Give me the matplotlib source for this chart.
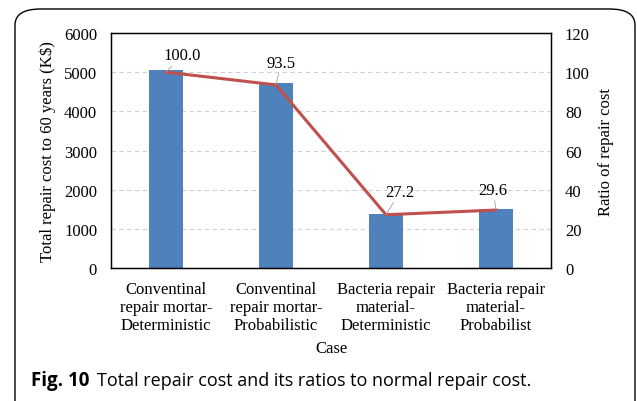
import numpy as np
import matplotlib.pyplot as plt
from matplotlib.patches import FancyBboxPatch

# data
cases = ["Conventinal\nrepair mortar-\nDeterministic",
         "Conventinal\nrepair mortar-\nProbabilistic",
         "Bacteria repair\nmaterial-\nDeterministic",
         "Bacteria repair\nmaterial-\nProbabilist"]
total_cost = [5050, 4720, 1370, 1500]
ratio = [100.0, 93.5, 27.2, 29.6]
ratio_labels = ["100.0", "93.5", "27.2", "29.6"]

plt.rcParams['font.family'] = ['Liberation Serif', 'DejaVu Serif']

fig = plt.figure(figsize=(6.37, 4.02), dpi=100)

# rounded frame around the figure
frame = FancyBboxPatch((15 / 637, -0.05), 620 / 637, 1 - 10 / 402 + 0.05,
                       boxstyle="round,pad=0,rounding_size=0.04",
                       transform=fig.transFigure, fill=False,
                       edgecolor="black", linewidth=1.0, clip_on=False)
fig.patches.append(frame)

ax = fig.add_axes([111 / 637, 1 - 269 / 402, 440 / 637, 235 / 402])
x = np.arange(1, len(cases) + 1)

ax.bar(x, total_cost, width=0.31, color="#4F81BD", zorder=2)
ax.set_xlim(0.5, 4.5)
ax.set_ylim(0, 6000)
ax.set_yticks(range(0, 6001, 1000))
ax.yaxis.grid(True, linestyle=(0, (4, 3)), color="#D0D0D0", linewidth=0.8, zorder=0)
ax.set_xticks(x)
ax.set_xticklabels(cases, fontsize=12, linespacing=1.2)
ax.tick_params(axis="both", length=0, labelsize=12)
ax.tick_params(axis="x", pad=9)
ax.tick_params(axis="y", pad=10)
ax.set_ylabel("Total repair cost to 60 years (K$)", fontsize=12, labelpad=6)
ax.set_xlabel("Case", fontsize=12, labelpad=5)
for s in ax.spines.values():
    s.set_linewidth(1.0)

ax2 = ax.twinx()
ax2.plot(x, ratio, color="#C0504D", linewidth=2.2, zorder=3)
ax2.set_ylim(0, 120)
ax2.set_yticks(range(0, 121, 20))
ax2.tick_params(axis="y", length=0, labelsize=12, pad=10)
ax2.set_ylabel("Ratio of repair cost", fontsize=12, labelpad=6)

offsets = [(11.5, 12), (3.6, 16), (10, 16.5), (-2, 14.5)]
for xi, yi, lab, off in zip(x, ratio, ratio_labels, offsets):
    ax2.annotate(lab, xy=(xi, yi), xytext=off, textcoords="offset points",
                 ha="center", va="center", fontsize=12,
                 arrowprops=dict(arrowstyle="-", color="#A0A0A0", lw=0.6,
                                 shrinkA=0, shrinkB=0))

fig.text(31 / 637, 1 - 381 / 402, "Fig. 10", fontsize=13.5, fontweight="bold",
         family="Open Sans", va="center")
fig.text(97 / 637, 1 - 381 / 402, "Total repair cost and its ratios to normal repair cost.",
         fontsize=13, family="Open Sans", va="center")

fig.savefig("out.png", dpi=100)
